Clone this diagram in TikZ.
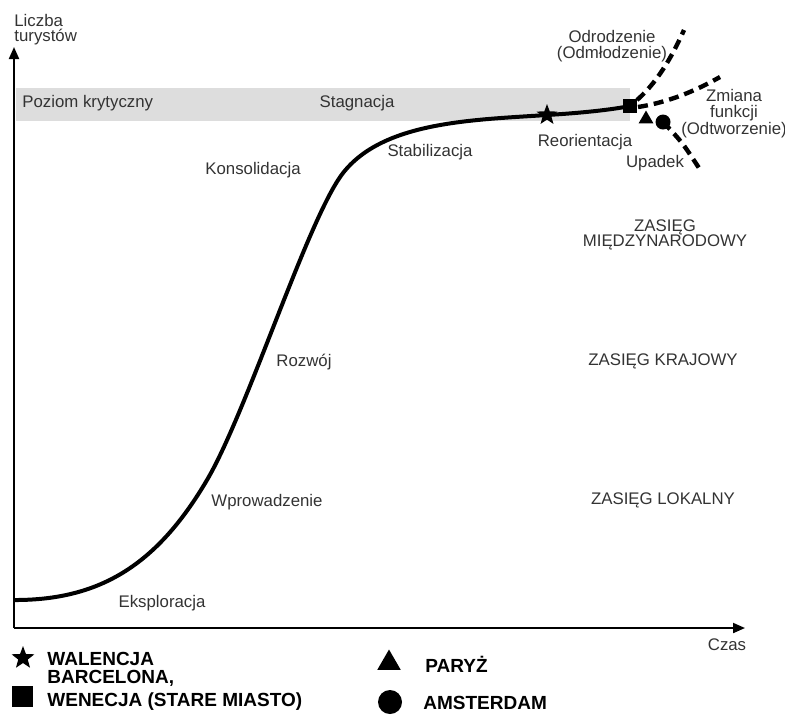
\documentclass[tikz,border=0pt]{standalone}
\usepackage{fontspec}
\setmainfont{Liberation Sans}
\usetikzlibrary{arrows.meta, shapes.geometric}
\definecolor{bandgray}{RGB}{221, 221, 221}
\definecolor{labelgray}{RGB}{51, 51, 51}

\begin{document}
\begin{tikzpicture}[x=0.5pt, y=-0.5pt,
    label/.style={text=labelgray, font=\fontsize{8.4}{7.8}\selectfont, inner sep=0pt, align=center},
    legend/.style={font=\fontsize{9.5}{11.5}\selectfont\bfseries, inner sep=0pt, anchor=west, align=left},
    axis/.style={line width=1pt, -{Triangle[length=6pt, width=5pt]}},
    branch/.style={line width=2.2pt, dash pattern=on 5pt off 3pt},
    starmark/.style={star, star points=5, star point ratio=2.4, fill, inner sep=0pt, minimum size=#1},
    squaremark/.style={rectangle, fill, inner sep=0pt, minimum size=#1},
    trianglemark/.style={regular polygon, regular polygon sides=3, fill, inner sep=0pt, minimum size=#1},
    dotmark/.style={circle, fill, inner sep=0pt, minimum size=#1}]

    \useasboundingbox (0,0) rectangle (785,720);

    % poziom krytyczny (pas)
    \fill[bandgray] (16,88) rectangle (630,121);

    % osie
    \coordinate (origin) at (14,628);
    \coordinate (ytip) at (14,47);
    \coordinate (xtip) at (745,628);
    \draw[axis] (origin) -- (ytip);
    \draw[axis] (origin) -- (xtip);
    \node[label, anchor=west, align=left] (liczba) at (14,29.5) {Liczba\\turystów};
    \node[label] (czas) at (727,645) {Czas};

    % krzywa cyklu zycia
    \coordinate (start) at (15,600);
    \coordinate (wprowadzeniePt) at (207,480);
    \coordinate (konsolidacjaPt) at (343,173);
    \coordinate (walencjaPt) at (547,115);
    \coordinate (barcelonaPt) at (630,106);
    \draw[line width=2pt] (start) .. controls (100,600) and (157,565) .. (wprowadzeniePt)
        .. controls (247,412) and (308,218) .. (konsolidacjaPt)
        .. controls (383,122) and (470,120) .. (walencjaPt)
        .. controls (580,113) and (610,110) .. (barcelonaPt);

    % warianty po stagnacji
    \coordinate (odrodzenieEnd) at (684,30);
    \coordinate (zmianaEnd) at (720,77);
    \coordinate (upadekEnd) at (699,168);
    \coordinate (paryzPt) at (646,119);
    \coordinate (amsterdamPt) at (663,122);
    \draw[branch] (637,100) .. controls (660,80) and (675,50) .. (odrodzenieEnd);
    \draw[branch] (638,107) .. controls (670,102) and (697,90) .. (zmianaEnd);
    \draw[branch] (amsterdamPt) .. controls (682,142) .. (upadekEnd);

    % miasta na krzywej
    \node[starmark=11pt] (walencja) at (walencjaPt) {};
    \node[squaremark=7pt] (barcelona) at (barcelonaPt) {};
    \node[trianglemark=8.5pt] (paryz) at (paryzPt) {};
    \node[dotmark=7.5pt] (amsterdam) at (amsterdamPt) {};

    % etapy
    \node[label, anchor=west] (poziom) at (22,103) {Poziom krytyczny};
    \node[label] (stagnacja) at (357,103) {Stagnacja};
    \node[label] (konsolidacja) at (253,170) {Konsolidacja};
    \node[label] (stabilizacja) at (430,152) {Stabilizacja};
    \node[label] (rozwoj) at (304,362) {Rozwój};
    \node[label] (wprowadzenie) at (267,502) {Wprowadzenie};
    \node[label] (eksploracja) at (162,603) {Eksploracja};
    \node[label] (reorientacja) at (585,142) {Reorientacja};
    \node[label] (upadek) at (655,163) {Upadek};
    \node[label] (odrodzenie) at (612,46) {Odrodzenie\\(Odmłodzenie)};
    \node[label] (zmiana) at (734,114) {Zmiana\\funkcji\\(Odtworzenie)};

    % zasiegi
    \node[label] (zasiegMiedzy) at (665,235) {ZASIĘG\\MIĘDZYNARODOWY};
    \node[label] (zasiegKraj) at (663,361) {ZASIĘG KRAJOWY};
    \node[label] (zasiegLok) at (663,500) {ZASIĘG LOKALNY};

    % legenda
    \node[starmark=12pt] (legStar) at (23,658) {};
    \node[legend] (legWalencja) at (47,659) {WALENCJA};
    \node[squaremark=10.5pt] (legSquare) at (22,696) {};
    \node[legend] (legBarcelona) at (47,690) {BARCELONA,\\WENECJA (STARE MIASTO)};
    \node[trianglemark=13.5pt] (legTriangle) at (389,663) {};
    \node[legend] (legParyz) at (425,664) {PARYŻ};
    \node[dotmark=12pt] (legDot) at (390,702) {};
    \node[legend] (legAmsterdam) at (423,703) {AMSTERDAM};

\end{tikzpicture}
\end{document}
